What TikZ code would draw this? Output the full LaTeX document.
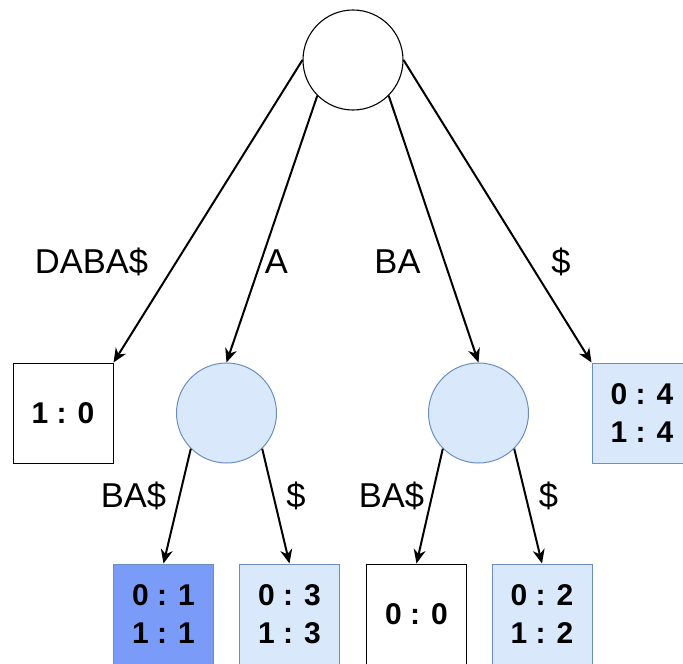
\documentclass[tikz,border=0pt]{standalone}
\usepackage{fontspec}
\setmainfont{Liberation Sans}
\usetikzlibrary{arrows.meta}
\definecolor{paleblue}{HTML}{DAE8FC}
\definecolor{blueline}{HTML}{6C8EBF}
\definecolor{deepblue}{HTML}{7A9CF8}
\tikzset{
  trienode/.style={circle, draw=black, line width=1.1pt, minimum size=100pt, inner sep=0pt},
  inner/.style={circle, draw=blueline, fill=paleblue, line width=1pt, minimum size=100pt, inner sep=0pt},
  leafbox/.style={rectangle, draw=black, line width=1pt, minimum width=100pt, minimum height=100pt,
    inner sep=0pt, align=center, font=\fontsize{30}{38}\selectfont\bfseries},
  bluebox/.style={leafbox, draw=blueline, fill=paleblue},
  darkbox/.style={leafbox, draw=blueline, fill=deepblue},
  edge/.style={line width=2pt, -{Stealth[length=14pt,width=12pt,inset=4.5pt]}},
  lbl/.style={anchor=base, inner sep=0pt, font=\fontsize{34.5}{40}\selectfont}
}
\begin{document}
\begin{tikzpicture}[x=1pt, y=-1pt]
  \clip (0,0) rectangle (683,664);
  \fill[white] (0,0) rectangle (683,664);

  % root of the tree
  \node[trienode] (root) at (353,60) {};

  % first level
  \node[leafbox]  (leafD)  at (63,413)    {1 : 0};
  \node[inner]    (nA)     at (226.5,413) {};
  \node[inner]    (nBA)    at (478.5,413) {};
  \node[bluebox]  (leafS)  at (642,413)   {0 : 4\\1 : 4};

  % second level
  \node[darkbox]  (leafABA) at (163.5,614) {0 : 1\\1 : 1};
  \node[bluebox]  (leafAS)  at (289.5,614) {0 : 3\\1 : 3};
  \node[leafbox]  (leafBBA) at (416.5,614) {0 : 0};
  \node[bluebox]  (leafBS)  at (542,614)   {0 : 2\\1 : 2};

  % edges from the root
  \draw[edge] (root.west) -- (leafD.north east);
  \draw[edge] (root.south west) -- (nA.north);
  \draw[edge] (root.south east) -- (nBA.north);
  \draw[edge] (root.east) -- (leafS.north west);

  % edges of the inner nodes
  \draw[edge] (nA.south west) -- (leafABA.north);
  \draw[edge] (nA.south east) -- (leafAS.north);
  \draw[edge] (nBA.south west) -- (leafBBA.north);
  \draw[edge] (nBA.south east) -- (leafBS.north);

  % edge labels
  \node[lbl] (tDABA) at (91.5,273)  {DABA\$};
  \node[lbl] (tA)    at (276.5,273) {A};
  \node[lbl] (tBA)   at (397.5,273) {BA};
  \node[lbl] (tS)    at (561,273)   {\$};
  \node[lbl] (tABA)  at (133.5,507) {BA\$};
  \node[lbl] (tAS)   at (296,507)   {\$};
  \node[lbl] (tBBA)  at (391.5,507) {BA\$};
  \node[lbl] (tBS)   at (548.5,507) {\$};
\end{tikzpicture}
\end{document}
